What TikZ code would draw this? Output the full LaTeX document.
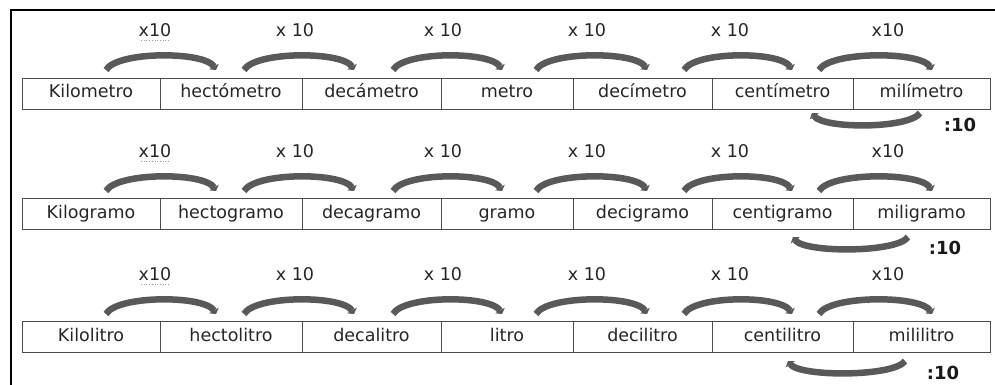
\documentclass[tikz,border=0pt]{standalone}
\usepackage{fontspec}
\setmainfont{DejaVu Sans}
\usetikzlibrary{arrows.meta}
\begin{document}
\begin{tikzpicture}[x=1pt,y=-1pt,
  cell/.style={draw=black!70, line width=0.9pt, minimum height=31pt, inner sep=0pt,
    text height=12pt, text depth=3pt,
    font=\fontsize{17.5}{20}\selectfont, text=black!85},
  lbl/.style={font=\fontsize{17.5}{20}\selectfont, text=black!85, inner sep=0pt},
  divlbl/.style={font=\bfseries\fontsize{18}{20}\selectfont, text=black!90, inner sep=0pt},
  arcline/.style={draw=black!65, line width=6.5pt, -{Triangle[length=4pt,width=11pt]}},
  squiggle/.style={draw=black!40, line width=0.7pt, dotted},
  frame/.style={draw=black, line width=1.6pt}
]
\useasboundingbox (0,0) rectangle (995,385);
% frame
\coordinate (f1) at (995,10);
\coordinate (f0) at (11,10);
\coordinate (f2) at (11,385);
\draw[frame] (f1) -- (f0) -- (f2);

% row 1
\foreach \i/\xa/\xb/\t in {1/22/160/Kilometro, 2/160/302/hectómetro, 3/302/441/decámetro,
  4/441/573/metro, 5/573/712/decímetro, 6/712/853/centímetro, 7/853/990/milímetro}
  \node[cell, minimum width={\xb-\xa}] (a\i) at ({(\xa+\xb)/2},93.5) {\t};
% row 2
\foreach \i/\xa/\xb/\t in {1/22/160/Kilogramo, 2/160/302/hectogramo, 3/302/441/decagramo,
  4/441/573/gramo, 5/573/712/decigramo, 6/712/853/centigramo, 7/853/990/miligramo}
  \node[cell, minimum width={\xb-\xa}] (b\i) at ({(\xa+\xb)/2},214) {\t};
% row 3
\foreach \i/\xa/\xb/\t in {1/22/160/Kilolitro, 2/160/302/hectolitro, 3/302/441/decalitro,
  4/441/573/litro, 5/573/712/decilitro, 6/712/853/centilitro, 7/853/990/mililitro}
  \node[cell, minimum width={\xb-\xa}] (c\i) at ({(\xa+\xb)/2},337) {\t};

% labels and arcs
\foreach \r/\dy in {a/0, b/121, c/244} {
  \foreach \k/\lx/\t/\sa/\sb in {1/155/x10/106/216, 2/295/x 10/244/354, 3/443/x 10/393/502,
      4/587/x 10/536/647, 5/730/x 10/684/792, 6/888/x10/819/932} {
    \node[lbl] (l\r\k) at (\lx,{30+\dy}) {\t};
    \coordinate (s\r\k) at (\sa,{70+\dy});
    \coordinate (e\r\k) at (\sb,{70+\dy});
    \draw[arcline] (s\r\k) .. controls +(11,-19) and +(-11,-19) .. (e\r\k);
  }
  \coordinate (w0\r) at (141,{40+\dy});
  \coordinate (w1\r) at (169,{40+\dy});
  \draw[squiggle] (w0\r) -- (w1\r);
}

% division arcs
\coordinate (da1) at (920,113); \coordinate (da0) at (812,113);
\draw[arcline] (da1) .. controls +(-11,16) and +(11,16) .. (da0);
\node[divlbl] (d1) at (960,125) {:10};
\coordinate (db1) at (908,237); \coordinate (db0) at (793,237);
\draw[arcline] (db1) .. controls +(-11,16) and +(11,16) .. (db0);
\node[divlbl] (d2) at (945,248) {:10};
\coordinate (dc1) at (905,361); \coordinate (dc0) at (788,361);
\draw[arcline] (dc1) .. controls +(-11,16) and +(11,16) .. (dc0);
\node[divlbl] (d3) at (943,373) {:10};
\end{tikzpicture}
\end{document}
